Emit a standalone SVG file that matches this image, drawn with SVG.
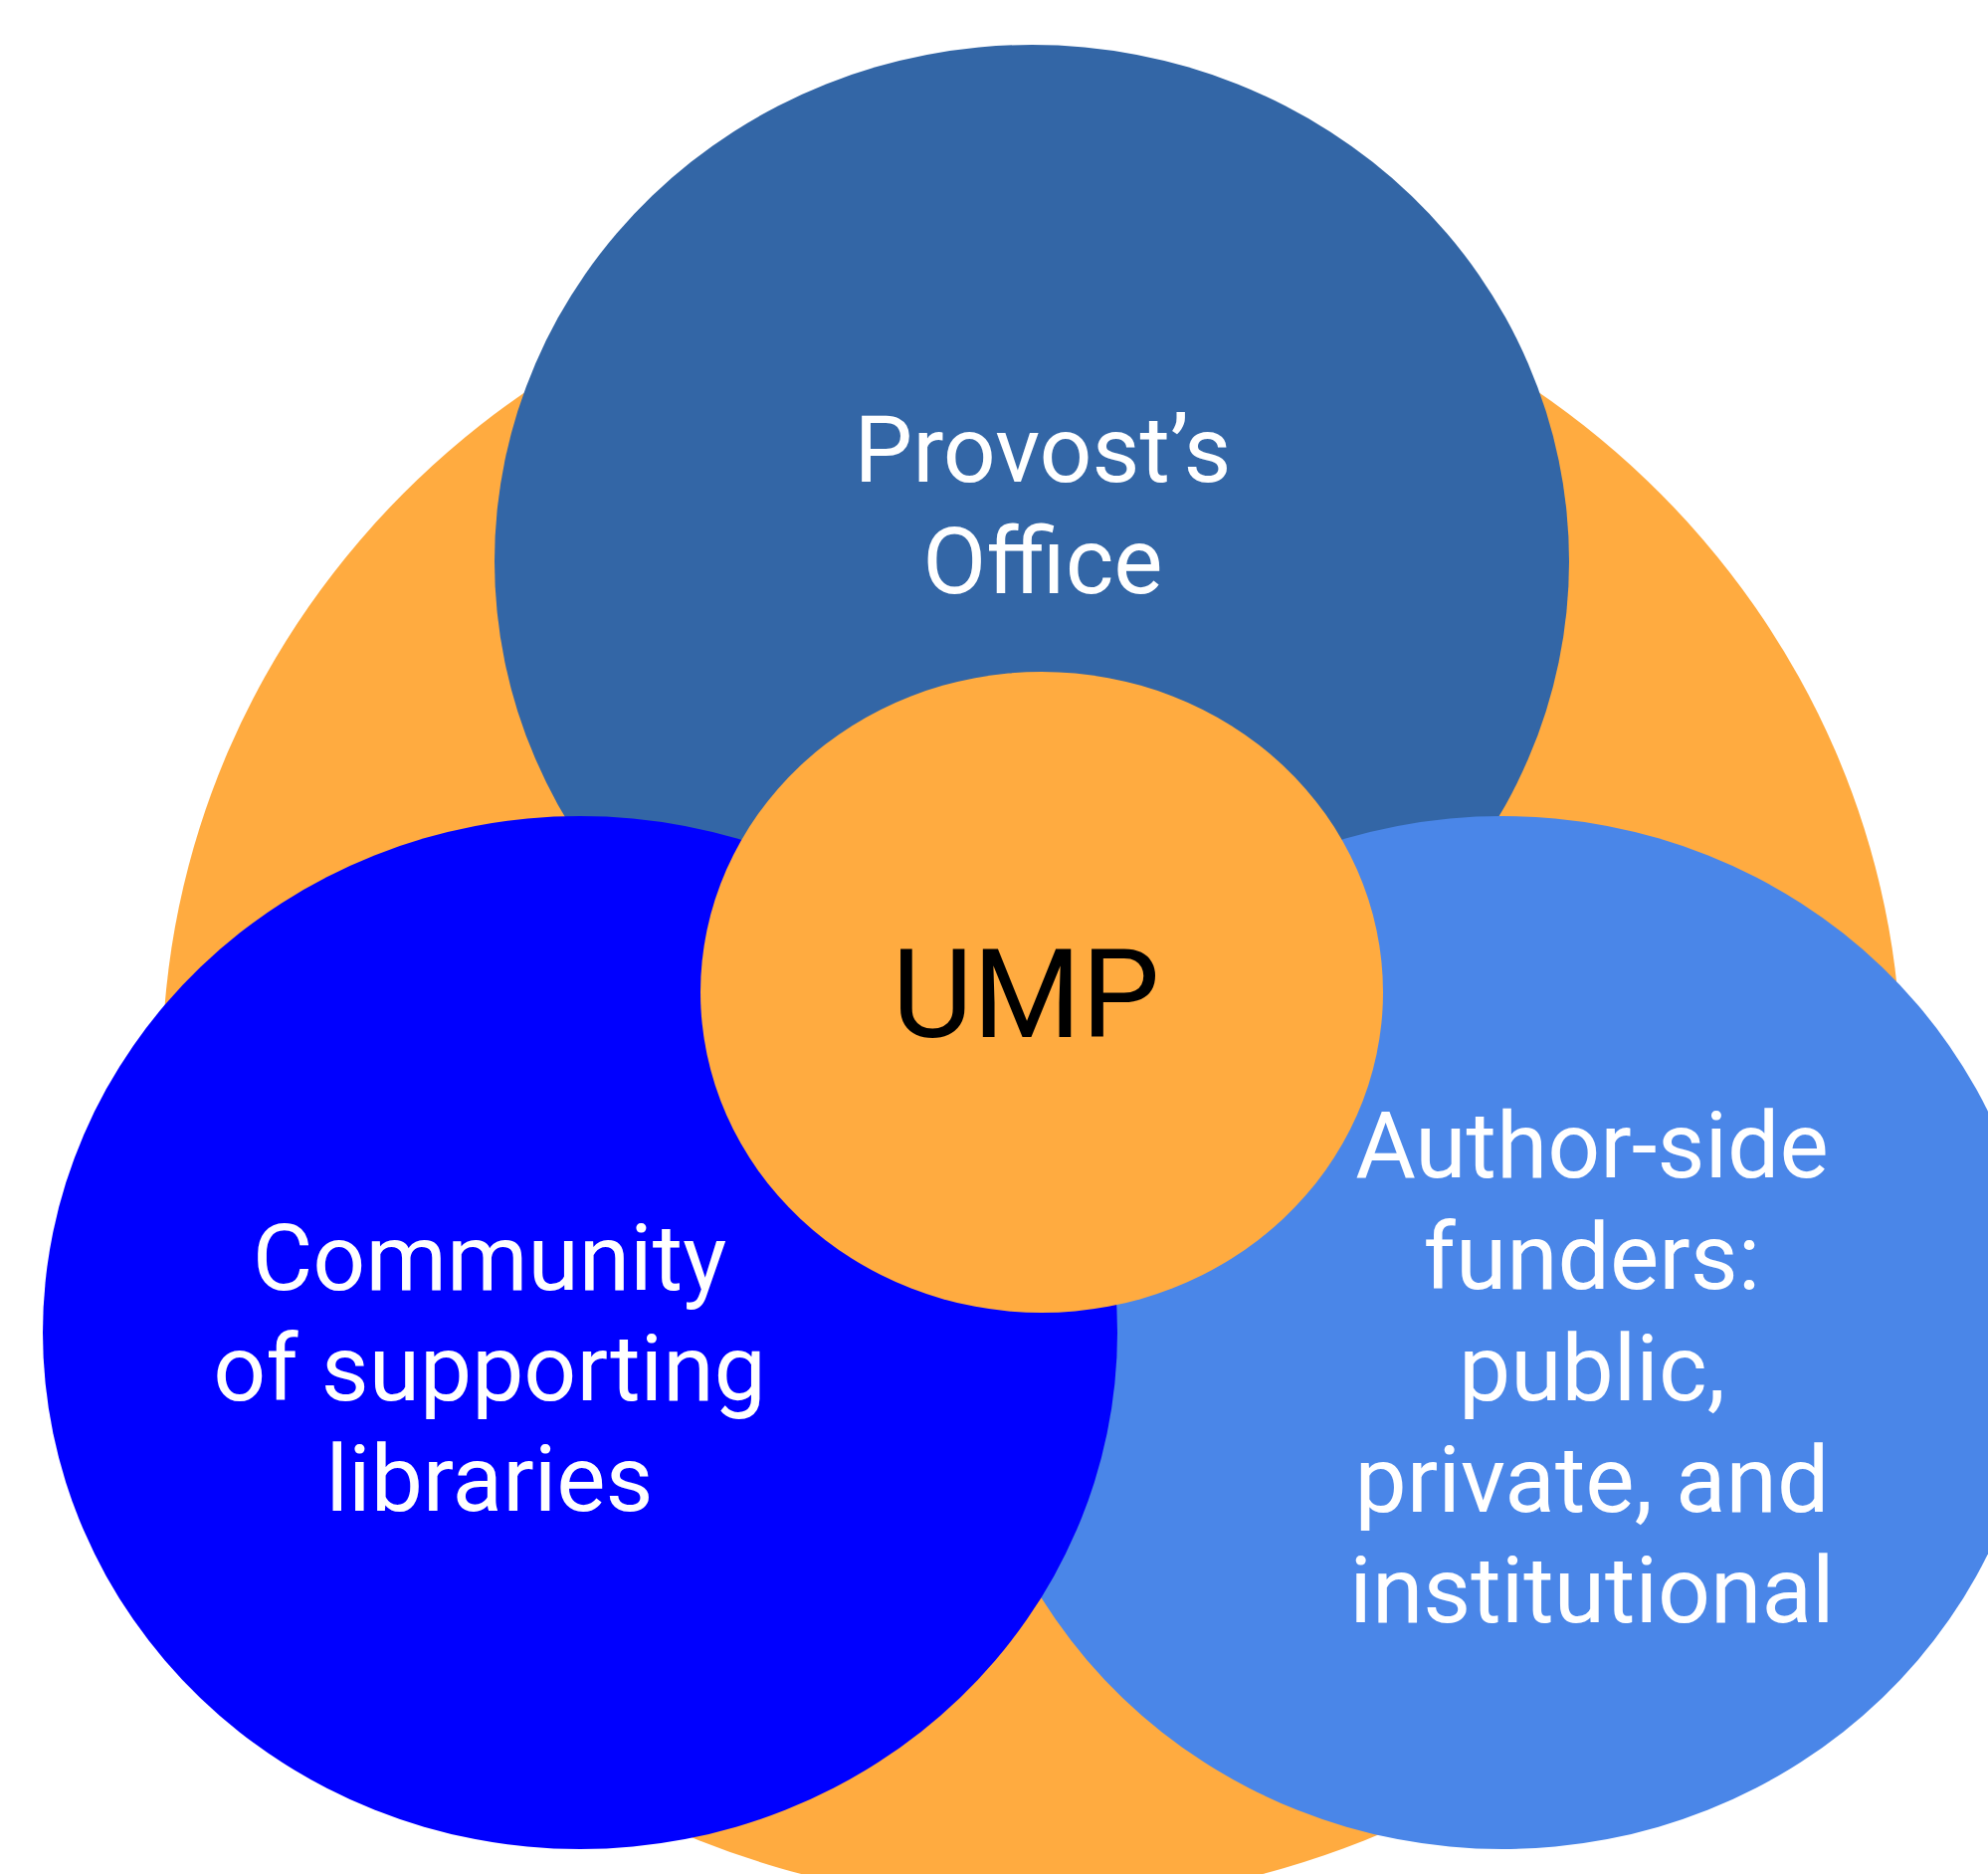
<svg xmlns="http://www.w3.org/2000/svg" width="1998" height="1883" viewBox="0 0 1998 1883">
<style>
.lbl{font-family:Roboto,"Liberation Sans",sans-serif;text-anchor:middle;fill:#ffffff;font-size:93px}
.ump{font-family:Roboto,"Liberation Sans",sans-serif;text-anchor:middle;fill:#000000;font-size:125px}
</style>
<rect width="1998" height="1883" fill="#ffffff"/>
<g id="outer">
<ellipse cx="1037" cy="1075" rx="874" ry="838" fill="#ffab40"/>
</g>
<g id="provost">
<ellipse cx="1037" cy="564" rx="540" ry="519" fill="#3366a6"/>
<text class="lbl" x="1048" y="484">Provost’s</text>
<text class="lbl" x="1048" y="596">Office</text>
</g>
<g id="author">
<ellipse cx="1510" cy="1339" rx="540" ry="519" fill="#4a86e8"/>
<text class="lbl" x="1600" y="1183">Author-side</text>
<text class="lbl" x="1600" y="1295">funders:</text>
<text class="lbl" x="1600" y="1407">public,</text>
<text class="lbl" x="1600" y="1519">private, and</text>
<text class="lbl" x="1600" y="1630">institutional</text>
</g>
<g id="community">
<ellipse cx="583" cy="1339" rx="540" ry="519" fill="#0000ff"/>
<text class="lbl" x="492" y="1296">Community</text>
<text class="lbl" x="492" y="1407">of supporting</text>
<text class="lbl" x="492" y="1518">libraries</text>
</g>
<g id="ump">
<ellipse cx="1047" cy="997" rx="343" ry="322" fill="#ffab40"/>
<text class="ump" x="1031" y="1042">UMP</text>
</g>
<g id="connectors"/>
</svg>
